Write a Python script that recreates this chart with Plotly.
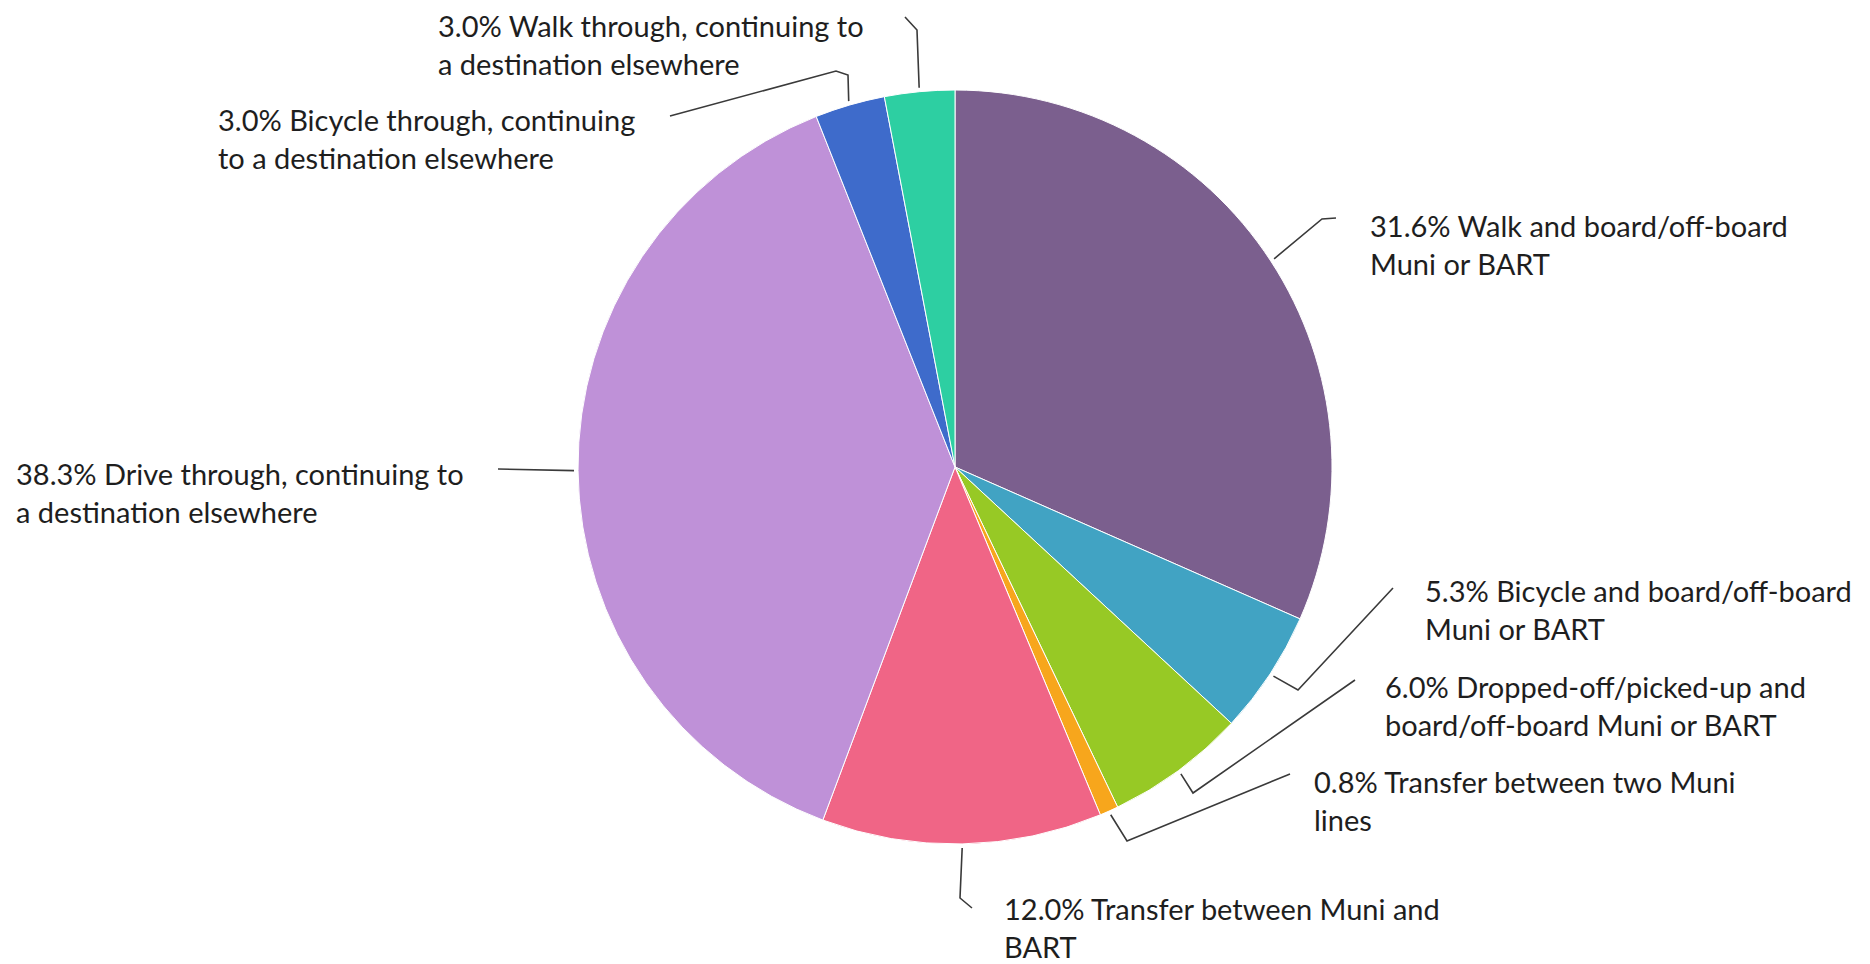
import math
import plotly.graph_objects as go

# ---- data ----
categories = [
    "Walk and board/off-board<br>Muni or BART",
    "Bicycle and board/off-board<br>Muni or BART",
    "Dropped-off/picked-up and<br>board/off-board Muni or BART",
    "Transfer between two Muni<br>lines",
    "Transfer between Muni and<br>BART",
    "Drive through, continuing to<br>a destination elsewhere",
    "Bicycle through, continuing<br>to a destination elsewhere",
    "Walk through, continuing to<br>a destination elsewhere",
]
shares = [31.6, 5.3, 6.0, 0.8, 12.0, 38.3, 3.0, 3.0]
colors = ["#7B5F8E", "#41A3C3", "#97C925", "#F7A61C", "#F06586", "#BF91D8", "#3E6BCB", "#2DCFA2"]

label_texts = [f"{v:.1f}% {c}" for v, c in zip(shares, categories)]

# ---- layout geometry (page pixels; the page body has an 8px margin) ----
PAGE_OFF = 8
W, H = 1870 - PAGE_OFF, 964 - PAGE_OFF
CX, CY, R = 955, 467, 377

# label anchor (left x, vertical centre y) and leader bend points, in page pixels
label_pos = [
    (1368, 244),
    (1423, 609),
    (1383, 705),
    (1312, 800),
    (1002, 927),
    (14, 492),
    (216, 138),
    (436, 44),
]
leader_bends = [
    [(1322, 219), (1336, 218)],
    [(1298, 690), (1393, 588)],
    [(1193, 793), (1355, 680)],
    [(1127, 841), (1290, 774)],
    [(960, 898), (972, 908)],
    [(498, 469)],
    [(848, 75), (836, 71), (670, 116)],
    [(917, 30), (905, 17)],
]


def px(x):
    return (x - PAGE_OFF) / W


def py(y):
    return 1 - (y - PAGE_OFF) / H


fig = go.Figure(
    go.Pie(
        values=shares,
        labels=[c.replace("<br>", " ") for c in categories],
        marker=dict(colors=colors, line=dict(color="white", width=1)),
        sort=False,
        direction="clockwise",
        rotation=0,
        textinfo="none",
        hoverinfo="label+percent",
        showlegend=False,
        domain=dict(x=[px(CX - R), px(CX + R)], y=[py(CY + R), py(CY - R)]),
    )
)

shapes = []
annotations = []
total = sum(shares)
cum = 0.0
for i, v in enumerate(shares):
    mid = (cum + v / 2) / total * 2 * math.pi
    cum += v
    sx = CX + (R + 4) * math.sin(mid)
    sy = CY - (R + 4) * math.cos(mid)
    pts = [(sx, sy)] + leader_bends[i]
    path = "M " + " L ".join(f"{px(x):.5f},{py(y):.5f}" for x, y in pts)
    shapes.append(dict(type="path", xref="paper", yref="paper", path=path,
                       line=dict(color="#3a3a3a", width=1.6)))
    lx, ly = label_pos[i]
    annotations.append(dict(
        x=px(lx), y=py(ly), xref="paper", yref="paper",
        text=label_texts[i], showarrow=False, xanchor="left", yanchor="middle",
        align="left", font=dict(family="Lato", size=29, color="#1e1e1e"),
    ))

fig.update_layout(
    width=W, height=H,
    margin=dict(l=0, r=0, t=0, b=0),
    paper_bgcolor="white", plot_bgcolor="white",
    shapes=shapes, annotations=annotations,
)

fig.write_html("out.html")
